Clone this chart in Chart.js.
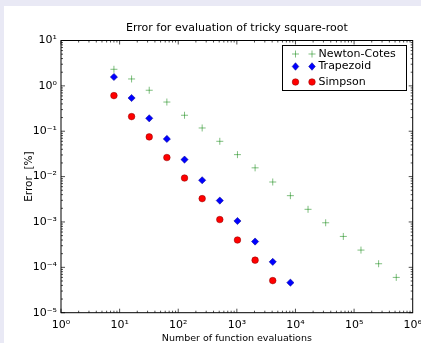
<!DOCTYPE html>
<html>
<head>
<meta charset="utf-8">
<script src="https://cdn.jsdelivr.net/npm/chart.js@4/dist/chart.umd.min.js"></script>
<style>
  html, body { margin: 0; padding: 0; background: #fff; }
  #wrap { width: 421px; height: 343px; position: relative; }
</style>
</head>
<body>
<div id="wrap"><canvas id="errChart"></canvas></div>
<script>
// ---------- data (log-log, error in %) ----------
const evalsNewtonCotes = [8, 16, 32, 64, 128, 256, 512, 1024, 2048, 4096, 8192, 16384, 32768, 65536, 131072, 262144, 524288];
const errNewtonCotes = [2.32, 1.42, 0.80, 0.44, 0.225, 0.118, 0.060, 0.0305, 0.0156, 0.0076, 0.0038, 0.0019, 0.00096, 0.00048, 0.00024, 0.00012, 0.00006];

const evalsTrapezoid = [8, 16, 32, 64, 128, 256, 512, 1024, 2048, 4096, 8192];
const errTrapezoid = [1.57, 0.54, 0.193, 0.0676, 0.0237, 0.0083, 0.00296, 0.00105, 0.00037, 0.000132, 0.000046];

const evalsSimpson = [8, 16, 32, 64, 128, 256, 512, 1024, 2048, 4096];
const errSimpson = [0.61, 0.21, 0.075, 0.0263, 0.0093, 0.00327, 0.00113, 0.0004, 0.000144, 0.000051];

const xTickValues = [1, 10, 100, 1000, 10000, 100000, 1000000];
const yTickValues = [0.00001, 0.0001, 0.001, 0.01, 0.1, 1, 10];

const FONT = "'DejaVu Sans', Arial, sans-serif";
const SUP = { "-": "\u207B", "0": "\u2070", "1": "\u00B9", "2": "\u00B2", "3": "\u00B3", "4": "\u2074", "5": "\u2075", "6": "\u2076" };
const powLabel = (v) => "10" + String(Math.round(Math.log10(v))).split("").map((c) => SUP[c]).join("");
const toPoints = (xs, ys) => xs.map((x, i) => ({ x, y: ys[i] }));

const NC_COLOR = "rgba(0,128,0,0.5)";

// ---------- small marker painter, shared by legend ----------
function drawMarker(ctx, kind, x, y) {
  ctx.save();
  if (kind === "cross") {
    ctx.strokeStyle = NC_COLOR; ctx.lineWidth = 1;
    ctx.beginPath();
    ctx.moveTo(x - 3.5, y); ctx.lineTo(x + 3.5, y);
    ctx.moveTo(x, y - 3.5); ctx.lineTo(x, y + 3.5);
    ctx.stroke();
  } else if (kind === "diamond") {
    ctx.fillStyle = "#0000ff"; ctx.strokeStyle = "#00008a"; ctx.lineWidth = 0.5;
    ctx.beginPath();
    ctx.moveTo(x, y - 3.8); ctx.lineTo(x + 3.3, y); ctx.lineTo(x, y + 3.8); ctx.lineTo(x - 3.3, y);
    ctx.closePath(); ctx.fill(); ctx.stroke();
  } else {
    ctx.fillStyle = "#ff0000"; ctx.strokeStyle = "#8a0000"; ctx.lineWidth = 0.5;
    ctx.beginPath(); ctx.arc(x, y, 3.3, 0, Math.PI * 2); ctx.fill(); ctx.stroke();
  }
  ctx.restore();
}

// ---------- page backdrop: white figure with lavender strip top/left ----------
const backdrop = {
  id: "backdrop",
  beforeDraw(chart) {
    const { ctx, width, height } = chart;
    ctx.save();
    ctx.fillStyle = "#ffffff";
    ctx.fillRect(0, 0, width, height);
    ctx.fillStyle = "#e9e9f5";
    ctx.fillRect(0, 0, width, 6);
    ctx.fillRect(0, 0, 4, height);
    ctx.restore();
  },
};

// ---------- matplotlib-style frame with inward major/minor ticks ----------
const frameTicks = {
  id: "frameTicks",
  afterDatasetsDraw(chart) {
    const { ctx, chartArea: a, scales } = chart;
    ctx.save();
    ctx.strokeStyle = "#000";
    ctx.lineWidth = 1;
    ctx.strokeRect(a.left, a.top, a.right - a.left, a.bottom - a.top);
    ctx.lineWidth = 0.7;
    ctx.beginPath();
    const xs = scales.x, ys = scales.y;
    for (let d = 0; d < 6; d++) {
      for (let m = 1; m <= 9; m++) {
        const px = xs.getPixelForValue(m * Math.pow(10, d));
        const len = m === 1 ? 4 : 2;
        ctx.moveTo(px, a.bottom); ctx.lineTo(px, a.bottom - len);
        ctx.moveTo(px, a.top); ctx.lineTo(px, a.top + len);
      }
    }
    for (let d = -5; d < 1; d++) {
      for (let m = 1; m <= 9; m++) {
        const py = ys.getPixelForValue(m * Math.pow(10, d));
        const len = m === 1 ? 4 : 2;
        ctx.moveTo(a.left, py); ctx.lineTo(a.left + len, py);
        ctx.moveTo(a.right, py); ctx.lineTo(a.right - len, py);
      }
    }
    ctx.stroke();
    ctx.restore();
  },
};

// ---------- legend box in upper right, two markers per entry ----------
const legendBox = {
  id: "legendBox",
  afterDraw(chart) {
    const ctx = chart.ctx;
    const entries = [
      { kind: "cross", label: "Newton-Cotes", y: 54 },
      { kind: "diamond", label: "Trapezoid", y: 66.5 },
      { kind: "circle", label: "Simpson", y: 82 },
    ];
    ctx.save();
    ctx.fillStyle = "#fff";
    ctx.fillRect(282, 45.5, 124, 45);
    ctx.strokeStyle = "#000"; ctx.lineWidth = 1;
    ctx.strokeRect(282.5, 45.5, 124, 45);
    ctx.font = "11px " + FONT;
    ctx.fillStyle = "#000";
    ctx.textBaseline = "middle";
    entries.forEach((e) => {
      drawMarker(ctx, e.kind, 295.5, e.y);
      drawMarker(ctx, e.kind, 312, e.y);
      ctx.fillText(e.label, 318.5, e.y);
    });
    ctx.restore();
  },
};

new Chart(document.getElementById("errChart"), {
  type: "scatter",
  data: {
    datasets: [
      { label: "Newton-Cotes", data: toPoints(evalsNewtonCotes, errNewtonCotes), pointStyle: "cross", radius: 3.5, borderColor: NC_COLOR, backgroundColor: NC_COLOR, borderWidth: 1 },
      { label: "Trapezoid", data: toPoints(evalsTrapezoid, errTrapezoid), pointStyle: "rectRot", radius: 3.6, borderColor: "#00008a", backgroundColor: "#0000ff", borderWidth: 0.5 },
      { label: "Simpson", data: toPoints(evalsSimpson, errSimpson), pointStyle: "circle", radius: 3.3, borderColor: "#8a0000", backgroundColor: "#ff0000", borderWidth: 0.5 },
    ],
  },
  options: {
    responsive: true, maintainAspectRatio: false, animation: false,
    layout: { padding: { left: 0, right: 8.3, top: 0, bottom: 0 } },
    plugins: {
      legend: { display: false },
      tooltip: { enabled: false },
      title: {
        display: true, fullSize: false,
        text: "Error for evaluation of tricky square-root",
        color: "#000", font: { family: FONT, size: 11, weight: "normal" },
        padding: { top: 21.5, bottom: 5.8 },
      },
    },
    scales: {
      x: {
        type: "logarithmic", min: 1, max: 1000000,
        grid: { display: false, drawTicks: false }, border: { display: false },
        afterBuildTicks: (s) => { s.ticks = xTickValues.map((v) => ({ value: v })); },
        afterFit: (s) => { s.height = 30.3; s.paddingLeft = 0; s.paddingRight = 0; },
        ticks: { callback: (v) => powLabel(v), autoSkip: false, maxRotation: 0, padding: 6, color: "#000", font: { family: FONT, size: 11 } },
        title: { display: true, text: "Number of function evaluations", color: "#000", font: { family: FONT, size: 9.5, lineHeight: 1 }, padding: { top: 0, bottom: 0 } },
      },
      y: {
        type: "logarithmic", min: 0.00001, max: 10,
        grid: { display: false, drawTicks: false }, border: { display: false },
        afterBuildTicks: (s) => { s.ticks = yTickValues.map((v) => ({ value: v })); },
        afterFit: (s) => { s.width = 61; s.paddingTop = 0; s.paddingBottom = 0; },
        ticks: { callback: (v) => powLabel(v), autoSkip: false, padding: 4, color: "#000", font: { family: FONT, size: 11 } },
        title: { display: true, text: "Error  [%]", color: "#000", font: { family: FONT, size: 10.5 }, padding: { top: 22.6, bottom: 0 } },
      },
    },
  },
  plugins: [backdrop, frameTicks, legendBox],
});
</script>
</body>
</html>
